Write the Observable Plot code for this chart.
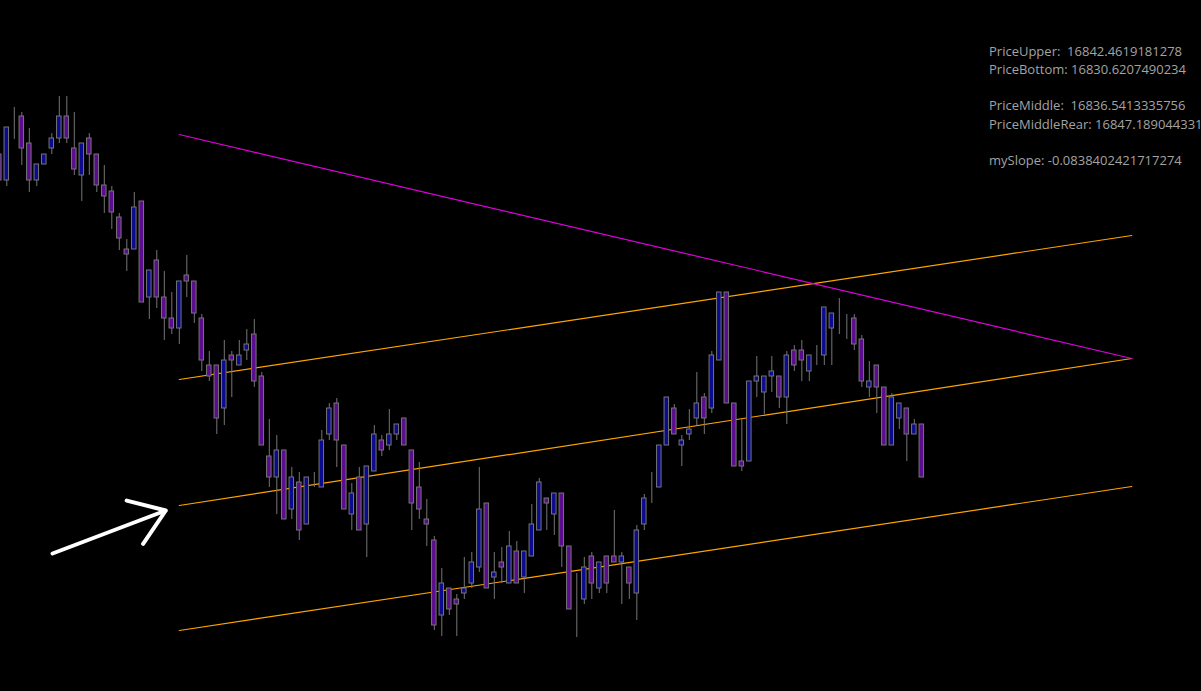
<!DOCTYPE html>
<html>
<head>
<meta charset="utf-8">
<script src="https://cdn.jsdelivr.net/npm/d3@7"></script>
<script src="https://cdn.jsdelivr.net/npm/@observablehq/plot@0.6"></script>
<style>
  html, body { margin: 0; padding: 0; background: #000; overflow: hidden; }
  #wrap { position: relative; width: 1201px; height: 691px; overflow: hidden; background: #000; }
  #info { position: absolute; left: 989px; top: 41.5px; font-family: "Open Sans", sans-serif; font-size: 13px; line-height: 18.3px; color: #a3a3a3; white-space: pre; }
</style>
</head>
<body>
<div id="wrap"><div id="chart"></div><div id="info"></div></div>
<script>
// Bar index of the first candle (partially visible at the left edge)
const firstIndex = -1;

const opens = [
  16842.30, 16841.00, 16843.90, 16844.20, 16842.85, 16841.00, 16841.80, 16842.60, 16843.10, 16844.20,
  16842.60, 16841.25, 16843.10, 16842.30, 16840.75, 16840.45, 16839.15, 16837.55, 16837.55, 16839.95,
  16835.15, 16837.00, 16835.15, 16834.10, 16833.60, 16836.25, 16835.95, 16834.10, 16831.75, 16831.75,
  16829.60, 16832.25, 16831.75, 16832.50, 16833.30, 16831.20, 16827.20, 16826.15, 16827.50, 16824.55,
  16825.90, 16823.80, 16825.65, 16825.65, 16828.30, 16829.85, 16827.75, 16824.30, 16826.15, 16823.80,
  16826.45, 16828.00, 16827.75, 16828.30, 16829.10, 16827.50, 16825.65, 16824.05, 16823.00, 16819.25,
  16820.60, 16820.05, 16820.35, 16820.85, 16821.65, 16824.85, 16821.15, 16821.90, 16820.85, 16822.45,
  16821.15, 16822.20, 16823.50, 16825.10, 16824.30, 16825.35, 16822.70, 16819.80, 16820.05, 16822.20,
  16820.60, 16822.20, 16822.20, 16821.90, 16821.65, 16820.35, 16823.80, 16825.35, 16825.65, 16827.75,
  16829.60, 16827.75, 16828.30, 16829.10, 16830.15, 16829.60, 16832.00, 16835.40, 16829.85, 16826.95,
  16826.95, 16830.95, 16830.40, 16831.20, 16831.20, 16830.15, 16832.50, 16832.50, 16831.45, 16832.50,
  16832.25, 16833.60, 16834.35, 16834.10, 16834.10, 16833.05, 16830.65, 16831.75, 16830.65, 16827.75,
  16829.10, 16829.60, 16828.30, 16828.80
];
const highs = [
  16842.30, 16843.65, 16844.65, 16844.40, 16843.60, 16841.80, 16842.30, 16843.35, 16845.20, 16845.20,
  16844.40, 16842.85, 16843.35, 16842.30, 16841.75, 16840.70, 16839.35, 16838.05, 16840.40, 16839.95,
  16836.50, 16837.50, 16836.45, 16835.40, 16835.95, 16837.25, 16835.95, 16834.30, 16832.45, 16831.75,
  16833.00, 16832.45, 16833.00, 16833.55, 16834.05, 16831.40, 16829.05, 16828.25, 16827.50, 16826.65,
  16826.40, 16826.15, 16826.40, 16828.50, 16829.85, 16830.10, 16827.75, 16825.85, 16826.65, 16826.70,
  16828.75, 16828.25, 16829.55, 16828.80, 16829.10, 16827.50, 16826.90, 16825.05, 16823.20, 16821.60,
  16820.60, 16820.30, 16822.15, 16822.40, 16826.65, 16824.85, 16822.40, 16822.65, 16823.45, 16822.95,
  16822.45, 16824.80, 16826.10, 16825.10, 16825.35, 16825.35, 16822.70, 16821.35, 16822.15, 16822.40,
  16821.90, 16822.20, 16824.50, 16822.40, 16821.65, 16823.75, 16825.30, 16826.40, 16827.75, 16830.15,
  16829.80, 16828.25, 16829.55, 16831.40, 16830.35, 16832.45, 16835.40, 16835.40, 16829.85, 16829.05,
  16830.95, 16832.20, 16831.20, 16832.20, 16831.20, 16832.45, 16832.75, 16833.00, 16832.25, 16832.75,
  16834.65, 16834.35, 16835.10, 16834.30, 16834.30, 16833.25, 16831.95, 16831.75, 16830.65, 16830.35,
  16829.85, 16829.60, 16829.05, 16828.80
];
const lows = [
  16840.95, 16840.70, 16843.05, 16841.75, 16840.40, 16840.70, 16841.80, 16842.30, 16842.85, 16842.85,
  16841.25, 16839.95, 16841.25, 16840.40, 16839.35, 16838.55, 16837.50, 16836.45, 16837.55, 16834.90,
  16834.05, 16834.60, 16833.00, 16833.30, 16832.80, 16835.15, 16833.85, 16831.45, 16830.95, 16828.30,
  16828.75, 16830.15, 16831.75, 16832.00, 16830.65, 16827.75, 16825.65, 16824.30, 16824.05, 16824.05,
  16823.00, 16823.80, 16825.65, 16825.65, 16828.00, 16826.65, 16824.55, 16823.50, 16823.50, 16822.15,
  16826.45, 16827.20, 16827.50, 16828.00, 16827.75, 16823.50, 16824.05, 16822.70, 16818.50, 16818.20,
  16819.25, 16818.20, 16820.05, 16820.60, 16821.40, 16820.60, 16820.05, 16820.85, 16820.85, 16820.85,
  16820.35, 16822.20, 16823.50, 16823.50, 16823.25, 16821.65, 16819.55, 16818.15, 16819.80, 16820.05,
  16820.35, 16820.35, 16821.90, 16819.80, 16820.05, 16819.00, 16823.50, 16824.85, 16825.65, 16827.75,
  16828.30, 16826.70, 16828.00, 16828.75, 16828.30, 16829.35, 16832.00, 16829.85, 16826.70, 16826.45,
  16826.95, 16830.15, 16829.30, 16830.40, 16829.60, 16828.80, 16831.45, 16830.95, 16830.95, 16831.75,
  16831.75, 16831.75, 16833.30, 16833.05, 16832.50, 16830.65, 16830.15, 16829.35, 16827.75, 16827.75,
  16828.55, 16826.95, 16828.30, 16826.15
];
const closes = [
  16841.00, 16843.65, 16843.90, 16842.60, 16841.00, 16841.80, 16842.30, 16843.10, 16844.20, 16843.10,
  16841.55, 16842.85, 16842.30, 16840.75, 16840.20, 16839.40, 16838.10, 16837.30, 16839.65, 16834.90,
  16836.50, 16835.15, 16834.10, 16833.60, 16835.95, 16835.95, 16834.35, 16832.00, 16831.20, 16829.10,
  16832.00, 16832.00, 16832.25, 16832.80, 16830.95, 16827.75, 16826.15, 16827.50, 16824.05, 16826.15,
  16823.50, 16826.15, 16825.65, 16828.00, 16829.60, 16828.00, 16824.55, 16825.35, 16823.50, 16826.70,
  16828.30, 16827.50, 16828.30, 16828.80, 16827.75, 16824.85, 16824.55, 16823.80, 16818.75, 16820.85,
  16819.55, 16819.80, 16820.60, 16821.90, 16824.55, 16820.60, 16821.40, 16821.65, 16822.70, 16820.85,
  16822.45, 16823.80, 16825.90, 16824.85, 16825.35, 16822.70, 16819.55, 16819.80, 16821.65, 16820.85,
  16821.90, 16820.85, 16821.90, 16822.20, 16820.85, 16823.50, 16825.10, 16825.35, 16827.75, 16830.15,
  16828.30, 16828.00, 16828.55, 16829.85, 16829.10, 16832.25, 16835.40, 16829.85, 16826.70, 16826.70,
  16830.95, 16831.20, 16831.20, 16831.45, 16830.15, 16832.25, 16831.75, 16832.00, 16832.25, 16832.50,
  16834.65, 16834.35, 16834.35, 16834.10, 16832.80, 16830.95, 16830.95, 16830.65, 16827.75, 16830.15,
  16829.85, 16828.30, 16828.80, 16826.15
];

// Channel / trend lines: bar index at start and end, price at start and end
const lineBars = [23, 150];
const upperLine = [16831.05, 16838.25];
const middleLine = [16824.75, 16832.10];
const bottomLine = [16818.50, 16825.70];
const trendLine = [16843.30, 16832.10];

// Hand-drawn arrow (tail bar/price -> head bar/price)
const arrowBars = [6.1, 21.2];
const arrowPrices = [16822.35, 16824.50];

const infoLines = [
  "PriceUpper:  16842.4619181278",
  "PriceBottom: 16830.6207490234",
  "",
  "PriceMiddle:  16836.5413335756",
  "PriceMiddleRear: 16847.1890443315",
  "",
  "mySlope: -0.0838402421717274"
];

const bars = opens.map((o, j) => ({
  i: j + firstIndex, o, h: highs[j], l: lows[j], c: closes[j],
  dir: closes[j] > o ? "up" : closes[j] < o ? "down" : "flat"
}));
const mkLine = (vals) => lineBars.map((b, j) => ({i: b, p: vals[j]}));

const chart = Plot.plot({
  width: 1201,
  height: 691,
  margin: 0,
  style: {background: "#000"},
  x: {domain: [-0.84, 159.29], axis: null},
  y: {domain: [16815.45, 16850], axis: null},
  color: {domain: ["up", "down", "flat"], range: ["#0b0b8f", "#5c0d8f", "none"]},
  marks: [
    Plot.line(mkLine(upperLine), {x: "i", y: "p", stroke: "#ffa500", strokeWidth: 1.2}),
    Plot.line(mkLine(middleLine), {x: "i", y: "p", stroke: "#ffa500", strokeWidth: 1.2}),
    Plot.line(mkLine(bottomLine), {x: "i", y: "p", stroke: "#ffa500", strokeWidth: 1.2}),
    Plot.line(mkLine(trendLine), {x: "i", y: "p", stroke: "#dd00dd", strokeWidth: 1.2}),
    Plot.ruleX(bars, {x: "i", y1: "l", y2: "h", stroke: "#757575", strokeWidth: 1}),
    Plot.rect(bars, {
      x1: d => d.i - 0.3, x2: d => d.i + 0.3,
      y1: d => Math.min(d.o, d.c), y2: d => Math.max(d.o, d.c),
      fill: "dir", stroke: "#757575", strokeWidth: 1
    }),
    Plot.arrow([{x1: arrowBars[0], y1: arrowPrices[0], x2: arrowBars[1], y2: arrowPrices[1]}], {
      x1: "x1", y1: "y1", x2: "x2", y2: "y2",
      stroke: "#fff", strokeWidth: 4, headLength: 16, headAngle: 70, strokeLinecap: "round"
    })
  ]
});
document.getElementById("chart").appendChild(chart);
document.getElementById("info").textContent = infoLines.join("\n");
</script>
</body>
</html>
